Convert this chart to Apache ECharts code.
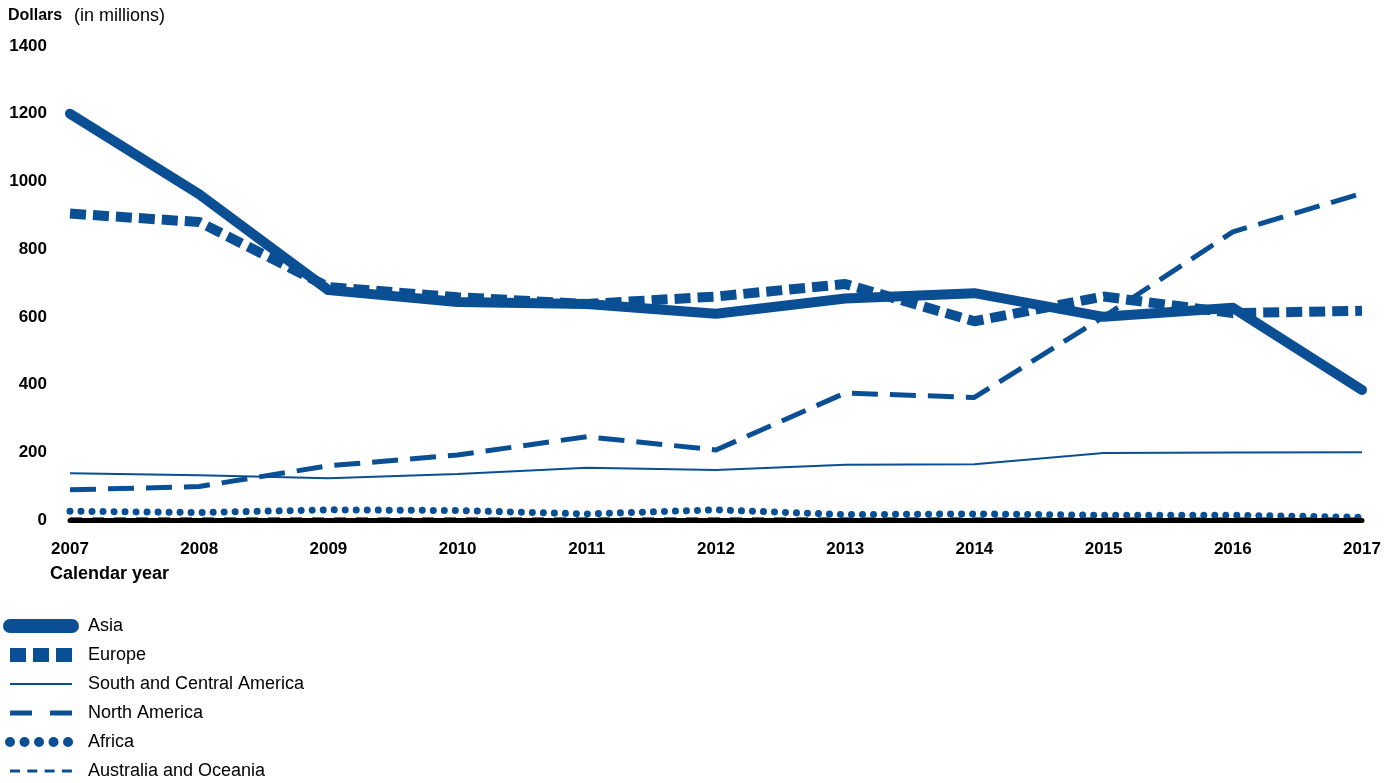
<!DOCTYPE html>
<html><head><meta charset="utf-8">
<script src="https://cdn.jsdelivr.net/npm/echarts@6/dist/echarts.min.js"></script>
<style>html,body{margin:0;padding:0;background:#fff}#c{width:1397px;height:783px}</style>
</head><body><div id="c"></div>
<script>
const years = ['2007','2008','2009','2010','2011','2012','2013','2014','2015','2016','2017'];
const yTicks = [0, 200, 400, 600, 800, 1000, 1200, 1400];
const asia = [1200, 962, 679, 644, 638, 609, 654, 670, 600, 627, 384];
const europe = [905, 880, 688, 658, 638, 660, 697, 587, 660, 611, 618];
const southCentral = [138, 132, 123, 136, 154, 148, 163, 165, 198, 199, 200];
const northAmerica = [89, 99, 160, 192, 246, 207, 375, 362, 600, 851, 965];
const africa = [26, 22, 30, 28, 18, 30, 16, 18, 14, 14, 8];
const australia = [4, 4, 4, 4, 4, 4, 4, 4, 4, 4, 4];
const names = ['Asia','Europe','South and Central America','North America','Africa','Australia and Oceania'];

const C = '#0a4f94';
const FONT = '"Liberation Sans", Arial, sans-serif';
const chart = echarts.init(document.getElementById('c'));

function line(name, data, ls, z) {
  return { name, type: 'line', data, symbol: 'none', smooth: false, z: z || 2,
    lineStyle: Object.assign({ color: C }, ls), itemStyle: { color: C }, emphasis: { disabled: true } };
}
const hidden = { opacity: 0 };

chart.setOption({
  animation: false,
  textStyle: { fontFamily: FONT },
  grid: { left: 70, right: 35, top: 46, bottom: 263, containLabel: false },
  graphic: [
    { type: 'text', left: 8, top: 8, style: { text: 'Dollars', font: 'bold 16px ' + FONT, fill: '#000' } },
    { type: 'text', left: 74, top: 7, style: { text: '(in millions)', font: '18px ' + FONT, fill: '#000' } },
    { type: 'text', left: 50, top: 565, style: { text: 'Calendar year', font: 'bold 18px ' + FONT, fill: '#000' } }
  ],
  xAxis: {
    type: 'category', data: years, boundaryGap: false, z: 10,
    axisLine: { lineStyle: { color: '#000', width: 5 } },
    axisTick: { show: false },
    axisLabel: { color: '#000', fontWeight: 'bold', fontSize: 17, margin: 21, fontFamily: FONT }
  },
  yAxis: {
    type: 'value', min: yTicks[0], max: yTicks[yTicks.length - 1], interval: 200,
    axisLine: { show: false }, axisTick: { show: false }, splitLine: { show: false },
    axisLabel: { color: '#000', fontWeight: 'bold', fontSize: 17, margin: 23, fontFamily: FONT,
      formatter: v => String(v) }
  },
  legend: {
    orient: 'vertical', left: 3, top: 617, padding: 0, itemWidth: 62, itemHeight: 14, itemGap: 11,
    textStyle: { fontSize: 18, color: '#000', fontFamily: FONT, padding: [0, 0, 0, 11] },
    selectedMode: false,
    data: [
      { name: names[0], itemStyle: hidden, lineStyle: { color: C, width: 14, type: 'solid', cap: 'round' } },
      { name: names[1], itemStyle: hidden, lineStyle: { color: C, width: 14, type: [16, 7], cap: 'butt' } },
      { name: names[2], itemStyle: hidden, lineStyle: { color: C, width: 2, type: 'solid' } },
      { name: names[3], itemStyle: hidden, lineStyle: { color: C, width: 5, type: [22, 18] } },
      { name: names[4], itemStyle: hidden, lineStyle: { color: C, width: 10, type: [0.01, 14.5], cap: 'round' } },
      { name: names[5], itemStyle: hidden, lineStyle: { color: C, width: 3, type: [10, 7.3] } }
    ]
  },
  series: [
    line(names[5], australia, { width: 3, type: [12, 10] }, 2),
    line(names[4], africa, { width: 7, type: [0.01, 11], cap: 'round' }, 2),
    line(names[2], southCentral, { width: 2 }, 3),
    line(names[3], northAmerica, { width: 5, type: [26, 12] }, 3),
    line(names[1], europe, { width: 10, type: [16, 7] }, 4),
    line(names[0], asia, { width: 10, cap: 'round', join: 'round' }, 5)
  ]
});
</script></body></html>
